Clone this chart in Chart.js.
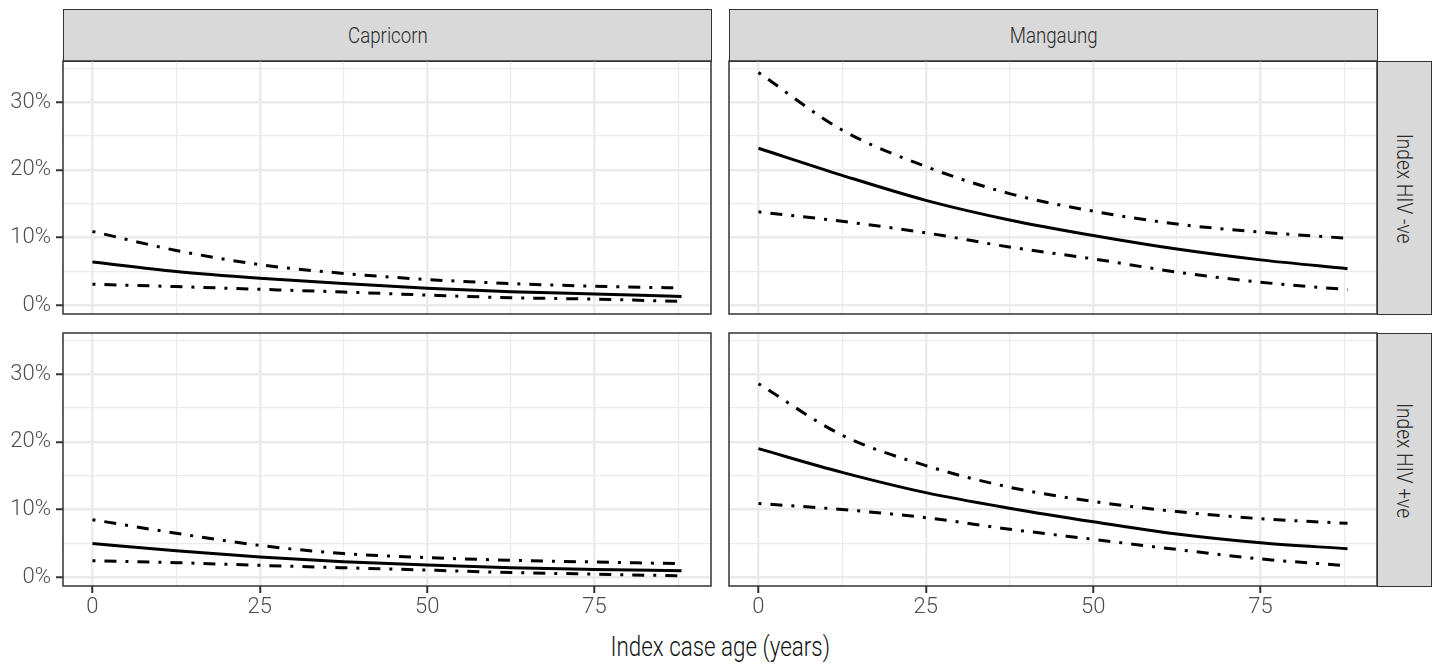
<!DOCTYPE html>
<html>
<head>
<meta charset="utf-8">
<script src="https://cdn.jsdelivr.net/npm/chart.js@4.4.0/dist/chart.umd.min.js"></script>
<style>
  body { margin: 0; background: #fff; }
  #wrap { position: relative; width: 1434px; height: 667px; overflow: hidden; font-family: Roboto, 'DejaVu Sans', sans-serif; font-weight: 300; }
  canvas { position: absolute; }
  .strip { position: absolute; box-sizing: border-box; background: #d9d9d9; border: 1.5px solid #333; color: #2b2b2b; font-size: 22px; display: flex; align-items: center; justify-content: center; }
  .strip span { white-space: nowrap; display: inline-block; transform: scaleX(0.85); }
  .rot span { transform: rotate(90deg) scaleX(0.87); }
  #xtitle { position: absolute; left: 0; width: 1440px; top: 630px; text-align: center; font-size: 28px; color: #111; }
  #xtitle span { display: inline-block; transform: scaleX(0.8); }
</style>
</head>
<body>
<div id="wrap">
  <div class="strip" style="left:63px;top:9px;width:649px;height:53px;"><span>Capricorn</span></div>
  <div class="strip" style="left:729px;top:9px;width:649px;height:53px;"><span>Mangaung</span></div>
  <div class="strip rot" style="left:1377px;top:61px;width:55px;height:254px;"><span>Index HIV -ve</span></div>
  <div class="strip rot" style="left:1377px;top:333px;width:55px;height:254px;"><span>Index HIV +ve</span></div>

  <canvas id="tl" width="713" height="275" style="left:0px;top:51px;"></canvas>
  <canvas id="tr" width="652" height="275" style="left:727px;top:51px;"></canvas>
  <canvas id="bl" width="713" height="298" style="left:0px;top:323px;"></canvas>
  <canvas id="br" width="652" height="298" style="left:727px;top:323px;"></canvas>

  <div id="xtitle"><span>Index case age (years)</span></div>
</div>

<script>
// index case age (x values)
const ages = [0, 12.5, 25, 37.5, 50, 62.5, 75, 88];

// Capricorn, index HIV -ve
const capNegUpper = [10.9, 8.1, 6.0, 4.7, 3.8, 3.2, 2.8, 2.55];
const capNegMid   = [6.4, 5.0, 4.0, 3.2, 2.5, 2.0, 1.65, 1.3];
const capNegLower = [3.1, 2.75, 2.35, 1.95, 1.5, 1.1, 0.9, 0.55];

// Mangaung, index HIV -ve
const mangNegUpper = [34.4, 25.9, 20.5, 16.5, 13.9, 12.0, 10.8, 9.9];
const mangNegMid   = [23.2, 19.2, 15.5, 12.6, 10.3, 8.3, 6.7, 5.4];
const mangNegLower = [13.8, 12.4, 10.7, 8.6, 6.85, 4.9, 3.4, 2.3];

// Capricorn, index HIV +ve
const capPosUpper = [8.5, 6.5, 4.7, 3.5, 2.9, 2.5, 2.25, 2.0];
const capPosMid   = [5.0, 3.9, 3.0, 2.3, 1.8, 1.4, 1.15, 0.95];
const capPosLower = [2.45, 2.15, 1.75, 1.4, 1.05, 0.7, 0.45, 0.2];

// Mangaung, index HIV +ve
const mangPosUpper = [28.6, 21.0, 16.5, 13.3, 11.2, 9.7, 8.65, 7.96];
const mangPosMid   = [19.0, 15.5, 12.5, 10.2, 8.2, 6.4, 5.1, 4.2];
const mangPosLower = [10.9, 10.0, 8.8, 7.1, 5.6, 4.1, 2.7, 1.7];

Chart.defaults.font.family = "Roboto, 'DejaVu Sans', sans-serif";
Chart.defaults.font.size = 22;
Chart.defaults.font.weight = '300';
Chart.defaults.color = '#4d4d4d';

// panel border drawn over the data like ggplot
const panelBorder = {
    id: 'panelBorder',
    afterDraw(chart) {
        const a = chart.chartArea;
        const ctx = chart.ctx;
        ctx.save();
        ctx.strokeStyle = '#333';
        ctx.lineWidth = 1.5;
        ctx.strokeRect(a.left, a.top, a.right - a.left, a.bottom - a.top);
        ctx.restore();
    }
};

function toPoints(vals) {
    return ages.map((a, i) => ({x: a, y: vals[i]}));
}

function makeSet(vals, dashed) {
    return {
        data: toPoints(vals),
        borderColor: '#000',
        borderWidth: 3,
        borderDash: dashed ? [3, 9, 12, 9] : [],
        pointRadius: 0,
        cubicInterpolationMode: 'monotone',
        fill: false
    };
}

function makePanel(id, upper, mid, lower, showX, showY, padLeft) {
    const ctx = document.getElementById(id).getContext('2d');
    return new Chart(ctx, {
        type: 'line',
        data: {
            datasets: [makeSet(upper, true), makeSet(mid, false), makeSet(lower, true)]
        },
        options: {
            responsive: false,
            animation: false,
            layout: {
                autoPadding: false,
                padding: {top: 10, bottom: showX ? 0 : 12, left: padLeft, right: 2}
            },
            plugins: {legend: {display: false}, tooltip: {enabled: false}},
            scales: {
                x: {
                    type: 'linear',
                    min: -4.4,
                    max: 92.4,
                    border: {display: false},
                    afterFit: (s) => {
                        s.height = showX ? 35 : 0;
                        s.paddingLeft = 0; s.paddingRight = 0;
                        s.paddingTop = 0; s.paddingBottom = 0;
                    },
                    grid: {
                        color: '#ebebeb',
                        lineWidth: (c) => c.tick && c.tick.value % 25 === 0 ? 2.5 : 1.2,
                        drawTicks: showX,
                        tickLength: 7,
                        tickColor: (c) => c.tick && c.tick.value % 25 === 0 ? '#333' : 'rgba(0,0,0,0)',
                        tickWidth: 2
                    },
                    ticks: {
                        display: showX,
                        stepSize: 12.5,
                        includeBounds: false,
                        maxRotation: 0,
                        autoSkip: false,
                        padding: 1,
                        callback: (v) => v % 25 === 0 ? String(v) : ''
                    }
                },
                y: {
                    min: -1.3,
                    max: 36.1,
                    border: {display: false},
                    afterFit: (s) => {
                        s.width = showY ? 63 : 0;
                        s.paddingLeft = 0; s.paddingRight = 0;
                        s.paddingTop = 0; s.paddingBottom = 0;
                    },
                    grid: {
                        color: '#ebebeb',
                        lineWidth: (c) => c.tick && c.tick.value % 10 === 0 ? 2.5 : 1.2,
                        drawTicks: showY,
                        tickLength: 7,
                        tickColor: (c) => c.tick && c.tick.value % 10 === 0 ? '#333' : 'rgba(0,0,0,0)',
                        tickWidth: 2
                    },
                    ticks: {
                        display: showY,
                        stepSize: 5,
                        includeBounds: false,
                        autoSkip: false,
                        padding: 5,
                        callback: (v) => v % 10 === 0 ? v + '%' : ''
                    }
                }
            }
        },
        plugins: [panelBorder]
    });
}

makePanel('tl', capNegUpper, capNegMid, capNegLower, false, true, 0);
makePanel('tr', mangNegUpper, mangNegMid, mangNegLower, false, false, 2);
makePanel('bl', capPosUpper, capPosMid, capPosLower, true, true, 0);
makePanel('br', mangPosUpper, mangPosMid, mangPosLower, true, false, 2);
</script>
</body>
</html>
